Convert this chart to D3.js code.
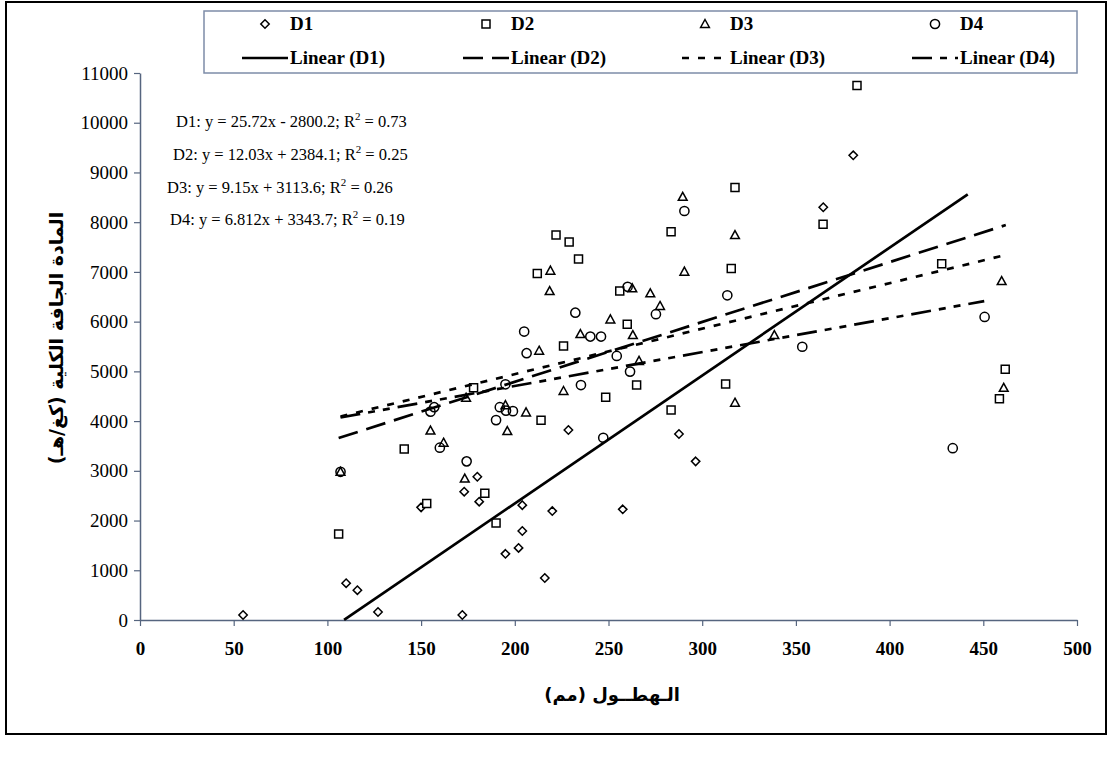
<!DOCTYPE html>
<html>
<head>
<meta charset="utf-8">
<script src="https://cdn.jsdelivr.net/npm/d3@7/dist/d3.min.js"></script>
<style>
  html, body { margin: 0; padding: 0; background: #fff; }
  svg { display: block; }
</style>
</head>
<body>
<svg id="chart" width="1114" height="760"></svg>
<script>
// ---------- DATA ----------
const seriesNames = ["D1", "D2", "D3", "D4"];
const legendLineLabels = ["Linear (D1)", "Linear (D2)", "Linear (D3)", "Linear (D4)"];

const d1X = [55, 110, 116, 127, 150, 172, 173, 180, 181, 195, 202, 204, 204, 216, 220, 228.6, 257.6, 287.6, 296.5, 364.6, 380.6];
const d1Y = [100, 740, 600, 160, 2265, 100, 2580, 2880, 2380, 1330, 1450, 2310, 1790, 845, 2190, 3820, 2225, 3740, 3190, 8300, 9345];

const d2X = [106, 141, 153, 178, 184, 190, 212, 214, 222, 226, 229, 234, 248.5, 256, 260, 265, 283.4, 283.4, 312.5, 315.5, 317.5, 364.5, 382.6, 427.8, 458.6, 461.7];
const d2Y = [1730, 3440, 2345, 4670, 2550, 1950, 6970, 4015, 7740, 5510, 7600, 7260, 4480, 6615, 5945, 4725, 7810, 4225, 4745, 7070, 8695, 7960, 10750, 7165, 4450, 5040];

const d3X = [107, 155, 162, 173.3, 174, 195, 196, 206, 213, 218.6, 219, 226, 235, 251, 262.7, 263, 266.3, 272.3, 277.5, 289.6, 290.5, 317.5, 317.5, 338.5, 459.8, 460.9];
const d3Y = [2980, 3810, 3565, 2845, 4470, 4320, 3800, 4175, 5415, 6615, 7025, 4605, 5750, 6045, 6670, 5730, 5210, 6570, 6315, 8510, 7005, 7740, 4370, 5730, 6815, 4670];

const d4X = [107, 155, 157, 160, 174.3, 190, 192, 195, 195.3, 199, 205, 206.3, 232.3, 235.3, 240.3, 246, 247.2, 254.4, 260.2, 261.5, 275.3, 290.5, 313.4, 353.4, 433.7, 450.7];
const d4Y = [2980, 4190, 4280, 3465, 3190, 4020, 4280, 4740, 4210, 4200, 5800, 5365, 6180, 4725, 5700, 5700, 3665, 5310, 6700, 4995, 6150, 8225, 6530, 5495, 3455, 6095];

// trend lines (from the equations printed on the chart)
const trendSlope = [25.72, 12.03, 9.15, 6.812];
const trendIntercept = [-2800.2, 2384.1, 3113.6, 3343.7];
const trendXStart = [108.9, 106, 107, 107];
const trendXEnd = [441.7, 462, 459.5, 450.5];

const equationLabels = [
  ["D1: y = 25.72x - 2800.2; R", "2", " = 0.73"],
  ["D2: y = 12.03x + 2384.1; R", "2", " = 0.25"],
  ["D3: y = 9.15x + 3113.6; R", "2", " = 0.26"],
  ["D4: y = 6.812x + 3343.7; R", "2", " = 0.19"]
];

const xTicks = [0, 50, 100, 150, 200, 250, 300, 350, 400, 450, 500];
const yTicks = [0, 1000, 2000, 3000, 4000, 5000, 6000, 7000, 8000, 9000, 10000, 11000];

const xTitle = "الـهطــول (مم)";
const yTitle = "المادة الجافة الكلية (كغ/هـ)";

// ---------- DRAW ----------
const svg = d3.select("#chart");
const axisColor = "#56657f";
const serif = "'Liberation Serif', 'Times New Roman', serif";

// outer border
svg.append("rect").attr("x", 6).attr("y", 2).attr("width", 1100).attr("height", 732)
  .attr("fill", "#fff").attr("stroke", "#000").attr("stroke-width", 2);

const x = d3.scaleLinear().domain([0, 500]).range([140, 1077]);
const y = d3.scaleLinear().domain([0, 11000]).range([620, 73]);

// axes
const xAxis = svg.append("g").attr("transform", `translate(0,${y(0)})`)
  .call(d3.axisBottom(x).tickValues(xTicks).tickSize(6).tickSizeOuter(0).tickFormat(d3.format("d")));
xAxis.select(".domain").attr("stroke", axisColor).attr("stroke-width", 1.5);
xAxis.selectAll(".tick line").attr("stroke", axisColor).attr("stroke-width", 1.2);
xAxis.selectAll(".tick text").attr("font-family", serif).attr("font-weight", "bold")
  .attr("font-size", 19).attr("fill", "#000").attr("dy", 0).attr("y", 35);

const yAxis = svg.append("g").attr("transform", `translate(${x(0)},0)`)
  .call(d3.axisLeft(y).tickValues(yTicks).tickSize(6).tickSizeOuter(0).tickFormat(d3.format("d")));
yAxis.select(".domain").attr("stroke", axisColor).attr("stroke-width", 1.5);
yAxis.selectAll(".tick line").attr("stroke", axisColor).attr("stroke-width", 1.2);
yAxis.selectAll(".tick text").attr("font-family", serif).attr("font-size", 19)
  .attr("fill", "#000").attr("x", -12);

// marker path generators (relative to centre)
function markerPath(kind, cx, cy) {
  const p = d3.path();
  if (kind === 0) { // diamond
    const s = 4.2;
    p.moveTo(cx, cy - s); p.lineTo(cx + s, cy); p.lineTo(cx, cy + s); p.lineTo(cx - s, cy); p.closePath();
  } else if (kind === 1) { // square
    const s = 4;
    p.rect(cx - s, cy - s, 2 * s, 2 * s);
  } else if (kind === 2) { // triangle
    const w = 4.4, h = 4;
    p.moveTo(cx, cy - h - 0.5); p.lineTo(cx + w, cy + h - 0.5); p.lineTo(cx - w, cy + h - 0.5); p.closePath();
  } else { // circle
    p.moveTo(cx + 4.6, cy); p.arc(cx, cy, 4.6, 0, 2 * Math.PI);
  }
  return p.toString();
}

const seriesX = [d1X, d2X, d3X, d4X];
const seriesY = [d1Y, d2Y, d3Y, d4Y];

seriesX.forEach((xs, si) => {
  const g = svg.append("g");
  xs.forEach((xv, i) => {
    g.append("path").attr("d", markerPath(si, x(xv), y(seriesY[si][i])))
      .attr("fill", si === 3 ? "none" : "#fff").attr("stroke", "#000").attr("stroke-width", 1.5);
  });
});

const dashes = [null, "20,9", "7,9", "20,8,7,8,7,8"];

// trend lines
trendSlope.forEach((m, i) => {
  const x0 = trendXStart[i], x1 = trendXEnd[i];
  svg.append("line")
    .attr("x1", x(x0)).attr("y1", y(m * x0 + trendIntercept[i]))
    .attr("x2", x(x1)).attr("y2", y(m * x1 + trendIntercept[i]))
    .attr("stroke", "#000").attr("stroke-width", 2.7)
    .attr("stroke-dasharray", dashes[i]);
});

// equations
const eqY = [122, 155, 188, 220];
const eqX = [176, 173, 167, 170];
equationLabels.forEach((parts, i) => {
  const t = svg.append("text").attr("x", eqX[i]).attr("y", eqY[i] + 5)
    .attr("font-family", serif).attr("font-size", 16.5).attr("fill", "#000");
  t.append("tspan").text(parts[0]);
  t.append("tspan").attr("dy", -7).attr("font-size", 11).text(parts[1]);
  t.append("tspan").attr("dy", 7).text(parts[2]);
});

// legend
svg.append("rect").attr("x", 204).attr("y", 11).attr("width", 873).attr("height", 62)
  .attr("fill", "#fff").attr("stroke", "#7d8ca8").attr("stroke-width", 1.5);
const colX = [242, 463, 682, 912];
const row1 = 24, row2 = 58;
seriesNames.forEach((nm, i) => {
  svg.append("path").attr("d", markerPath(i, colX[i] + 23, row1))
    .attr("fill", "#fff").attr("stroke", "#000").attr("stroke-width", 1.5);
  svg.append("text").attr("x", colX[i] + 48).attr("y", row1 + 6)
    .attr("font-family", serif).attr("font-weight", "bold").attr("font-size", 19).text(nm);
  svg.append("line").attr("x1", colX[i]).attr("x2", colX[i] + 46).attr("y1", row2).attr("y2", row2)
    .attr("stroke", "#000").attr("stroke-width", 2.7).attr("stroke-dasharray", dashes[i]);
  svg.append("text").attr("x", colX[i] + 48).attr("y", row2 + 6)
    .attr("font-family", serif).attr("font-weight", "bold").attr("font-size", 19).text(legendLineLabels[i]);
});

// axis titles
svg.append("text").attr("x", 612).attr("y", 701).attr("text-anchor", "middle")
  .attr("font-family", "'DejaVu Sans', sans-serif").attr("font-weight", "bold").attr("font-size", 18)
  .attr("direction", "rtl").text(xTitle);
svg.append("text").attr("transform", "translate(63,338) rotate(-90)").attr("text-anchor", "middle")
  .attr("font-family", "'DejaVu Sans', sans-serif").attr("font-weight", "bold").attr("font-size", 19)
  .attr("direction", "rtl").text(yTitle);
</script>
</body>
</html>
